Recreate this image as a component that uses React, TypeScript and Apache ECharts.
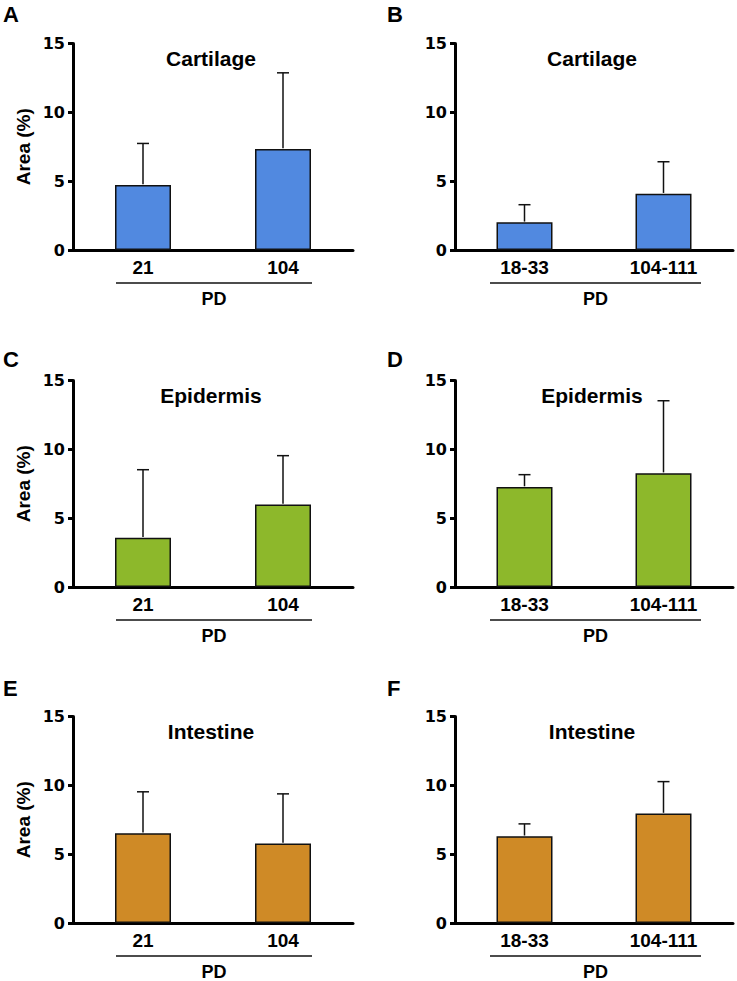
import React, { useEffect, useRef } from 'react';
import * as echarts from 'echarts';

// ---- Data ----
const groupsSingle = ['21', '104'];
const groupsRange = ['18-33', '104-111'];
const yTicks = [0, 5, 10, 15];
const panelLetters = ['A', 'B', 'C', 'D', 'E', 'F'];
const panelTitles = ['Cartilage', 'Cartilage', 'Epidermis', 'Epidermis', 'Intestine', 'Intestine'];
const groupAxisLabel = 'PD';
const yAxisTitle = 'Area (%)';

const cartilageSingleMean = [4.72, 7.33];
const cartilageSingleSd = [3.02, 5.54];
const cartilageRangeMean = [2.01, 4.09];
const cartilageRangeSd = [1.28, 2.32];
const epidermisSingleMean = [3.58, 6.0];
const epidermisSingleSd = [4.94, 3.54];
const epidermisRangeMean = [7.26, 8.27];
const epidermisRangeSd = [0.9, 5.26];
const intestineSingleMean = [6.52, 5.77];
const intestineSingleSd = [3.01, 3.61];
const intestineRangeMean = [6.3, 7.95];
const intestineRangeSd = [0.9, 2.32];

// ---- Styling ----
const tissueColors = ['#5189E0', '#8DB82B', '#CF8A26'];
const FONT = '"Liberation Sans", Arial, Helvetica, sans-serif';
const TICK_FONT = '"DejaVu Sans", "Liberation Sans", Arial, sans-serif';

const panels = [
  { cats: groupsSingle, mean: cartilageSingleMean, sd: cartilageSingleSd },
  { cats: groupsRange, mean: cartilageRangeMean, sd: cartilageRangeSd },
  { cats: groupsSingle, mean: epidermisSingleMean, sd: epidermisSingleSd },
  { cats: groupsRange, mean: epidermisRangeMean, sd: epidermisRangeSd },
  { cats: groupsSingle, mean: intestineSingleMean, sd: intestineSingleSd },
  { cats: groupsRange, mean: intestineRangeMean, sd: intestineRangeSd },
];

const colLeft = [73, 455];
const colWidth = [280, 278];
const rowTop = [43.5, 380.5, 716.5];
const rowHeight = 206.5;
const letterX = [3, 387];
const letterY = [14.5, 359.5, 688.5];

export default function App() {
  const ref = useRef<HTMLDivElement>(null);

  useEffect(() => {
    if (!ref.current) return;
    const chart = echarts.init(ref.current, undefined, { renderer: 'svg' });

    const grids: any[] = [];
    const xAxes: any[] = [];
    const yAxes: any[] = [];
    const series: any[] = [];
    const graphics: any[] = [];

    panels.forEach((p, i) => {
      const col = i % 2;
      const row = Math.floor(i / 2);
      const left = colLeft[col];
      const width = colWidth[col];
      const top = rowTop[row];
      const bottom = top + rowHeight;
      const color = tissueColors[row];

      grids.push({ left, top, width, height: rowHeight, containLabel: false });

      xAxes.push({
        type: 'category',
        gridIndex: i,
        data: p.cats,
        boundaryGap: true,
        axisLine: { show: true, lineStyle: { color: '#000', width: 3 } },
        axisTick: { show: false },
        axisLabel: {
          color: '#000',
          fontSize: 19,
          fontWeight: 'bold',
          fontFamily: FONT,
          margin: 8,
        },
        splitLine: { show: false },
      });

      yAxes.push({
        type: 'value',
        gridIndex: i,
        min: yTicks[0],
        max: yTicks[yTicks.length - 1],
        interval: yTicks[1] - yTicks[0],
        name: col === 0 ? yAxisTitle : '',
        nameLocation: 'middle',
        nameGap: 40,
        nameTextStyle: { color: '#000', fontSize: 19, fontWeight: 'bold', fontFamily: FONT },
        axisLine: { show: true, lineStyle: { color: '#000', width: 3 } },
        axisTick: { show: true, length: 5, lineStyle: { color: '#000', width: 3 } },
        axisLabel: {
          color: '#000',
          fontSize: 16,
          fontWeight: 'bold',
          fontFamily: TICK_FONT,
          margin: 8,
        },
        splitLine: { show: false },
      });

      series.push({
        type: 'bar',
        xAxisIndex: i,
        yAxisIndex: i,
        data: p.mean,
        barWidth: 56,
        itemStyle: { color, borderColor: '#111', borderWidth: 1.5 },
        z: 2,
      });

      series.push({
        type: 'custom',
        xAxisIndex: i,
        yAxisIndex: i,
        data: p.mean.map((m, j) => [j, m, m + p.sd[j]]),
        encode: { x: 0, y: [1, 2] },
        z: 3,
        renderItem: (_params: any, api: any) => {
          const base = api.coord([api.value(0), api.value(1)]);
          const tip = api.coord([api.value(0), api.value(2)]);
          const st = { stroke: '#111', lineWidth: 1.5 };
          return {
            type: 'group',
            children: [
              { type: 'line', shape: { x1: base[0], y1: base[1] - 0.75, x2: tip[0], y2: tip[1] }, style: st },
              { type: 'line', shape: { x1: tip[0] - 6, y1: tip[1], x2: tip[0] + 6, y2: tip[1] }, style: st },
            ],
          };
        },
      });

      // Panel letter
      graphics.push({
        type: 'text',
        x: letterX[col],
        y: letterY[row],
        style: {
          text: panelLetters[i],
          fill: '#000',
          font: `bold 22px ${FONT}`,
          textAlign: 'left',
          textVerticalAlign: 'middle',
        },
      });
      // Panel title
      graphics.push({
        type: 'text',
        x: left + width / 2 - 2,
        y: top + 15,
        style: {
          text: panelTitles[i],
          fill: '#000',
          font: `bold 21px ${FONT}`,
          textAlign: 'center',
          textVerticalAlign: 'middle',
        },
      });
      // Group bracket line
      const x1 = col === 0 ? left + 43 : left + 35;
      const x2 = col === 0 ? left + 239 : left + 246;
      graphics.push({
        type: 'line',
        shape: { x1, y1: bottom + 33, x2, y2: bottom + 33 },
        style: { stroke: '#111', lineWidth: 1.5 },
      });
      graphics.push({
        type: 'text',
        x: (x1 + x2) / 2,
        y: bottom + 48.5,
        style: {
          text: groupAxisLabel,
          fill: '#000',
          font: `bold 18px ${FONT}`,
          lineHeight: 18,
          textAlign: 'center',
          textVerticalAlign: 'middle',
        },
      });
    });

    chart.setOption({
      animation: false,
      backgroundColor: '#fff',
      grid: grids,
      xAxis: xAxes,
      yAxis: yAxes,
      series,
      graphic: graphics,
    });

    return () => chart.dispose();
  }, []);

  return (
    <div
      ref={ref}
      style={{ position: 'absolute', left: 0, top: 0, width: 737, height: 981, background: '#fff' }}
    />
  );
}
